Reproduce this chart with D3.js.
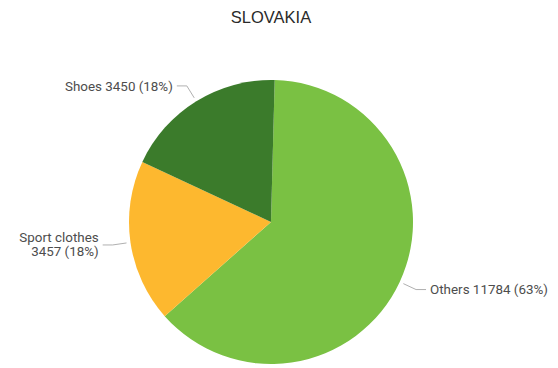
<!DOCTYPE html>
<html>
<head>
<meta charset="utf-8">
<script src="https://cdn.jsdelivr.net/npm/d3@7"></script>
<style>
  html, body { margin: 0; padding: 0; background: #fff; }
  svg { display: block; }
</style>
</head>
<body>
<svg id="chart" width="558" height="368"></svg>
<script>
// Sales breakdown for Slovakia
const title = "SLOVAKIA";
const categories = ["Others", "Sport clothes", "Shoes"];
const values = [11784, 3457, 3450];
const percentLabels = ["63%", "18%", "18%"];
const colors = ["#7ac143", "#fdb82f", "#3b7b2b"];

const width = 558, height = 368;
const cx = 271, cy = 222, radius = 142;

const svg = d3.select("#chart");

svg.append("text")
  .attr("x", cx)
  .attr("y", 23)
  .attr("text-anchor", "middle")
  .attr("font-family", "'Liberation Sans', Arial, sans-serif")
  .attr("font-size", 16.5)
  .attr("fill", "#2a2a2a")
  .text(title);

const data = categories.map((c, i) => ({ name: c, value: values[i], pct: percentLabels[i], color: colors[i] }));

const startOffset = 0.026;
const pie = d3.pie()
  .value(d => d.value)
  .sort(null)
  .startAngle(startOffset)
  .endAngle(2 * Math.PI + startOffset);

const arcs = pie(data);
const arc = d3.arc().innerRadius(0).outerRadius(radius);

const g = svg.append("g").attr("transform", `translate(${cx},${cy})`);

g.selectAll("path.slice")
  .data(arcs)
  .join("path")
  .attr("class", "slice")
  .attr("d", arc)
  .attr("fill", d => d.data.color);

// Leader lines and labels
const lineStart = d3.arc().innerRadius(radius + 4).outerRadius(radius + 4);
const lineElbow = d3.arc().innerRadius(radius + 18).outerRadius(radius + 18);
const tail = 10, gap = 4;
const fontSize = 13.4;

arcs.forEach(d => {
  const p0 = lineStart.centroid(d);
  const p1 = lineElbow.centroid(d);
  const mid = (d.startAngle + d.endAngle) / 2;
  const right = Math.sin(mid) > 0;
  const dir = right ? 1 : -1;
  const p2 = [p1[0] + dir * tail, p1[1]];

  g.append("polyline")
    .attr("points", [p0, p1, p2].map(p => p.join(",")).join(" "))
    .attr("fill", "none")
    .attr("stroke", "#b0b0b0")
    .attr("stroke-width", 1);

  const t = g.append("text")
    .attr("x", p2[0] + dir * gap)
    .attr("y", p2[1])
    .attr("text-anchor", right ? "start" : "end")
    .attr("font-family", "Roboto, 'Noto Sans', sans-serif")
    .attr("font-size", fontSize)
    .attr("fill", "#4d4d4d");

  const full = `${d.data.name} ${d.data.value} (${d.data.pct})`;
  if (d.data.name === "Sport clothes") {
    t.append("tspan").attr("x", p2[0] + dir * gap).attr("dy", "-0.2em").text(d.data.name);
    t.append("tspan").attr("x", p2[0] + dir * gap).attr("dy", "1.05em").text(`${d.data.value} (${d.data.pct})`);
  } else {
    t.attr("dy", "0.35em").text(full);
  }
});
</script>
</body>
</html>
